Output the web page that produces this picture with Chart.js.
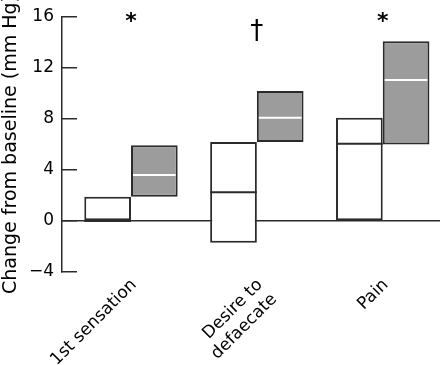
<!DOCTYPE html>
<html><head><meta charset="utf-8">
<script src="https://cdn.jsdelivr.net/npm/chart.js@4.4.0/dist/chart.umd.min.js"></script>
<style>html,body{margin:0;padding:0;background:#fff;overflow:hidden}#wrap{width:440px;height:365px}</style>
</head><body><div id="wrap"><canvas id="c" width="440" height="365"></canvas></div>
<script>
const categories = ['1st sensation', ['Desire to', 'defaecate'], 'Pain'];
const openLow = [0, -1.7, 0];
const openHigh = [1.9, 6.2, 8.1];
const openMedian = [0, 2.25, 6.05];
const shadedLow = [1.9, 6.2, 6.0];
const shadedHigh = [5.95, 10.2, 14.1];
const shadedMedian = [3.6, 8.1, 11.05];
const yTicks = [-4, 0, 4, 8, 12, 16];
const sigMarks = ['*', '\u2020', '*'];
const sigLevel = [15.6, 14.8, 15.6];

const FONT = 'DejaVu Sans';
const DARK = '#2b2b2b';

const medianPlugin = {
  id: 'medians',
  afterDatasetsDraw(chart) {
    const ctx = chart.ctx, y = chart.scales.y;
    chart.data.datasets.forEach((ds, di) => {
      const meta = chart.getDatasetMeta(di);
      meta.data.forEach((bar, i) => {
        const py = y.getPixelForValue(ds.medians[i]);
        const half = bar.width / 2 - ds.medianInset;
        ctx.save();
        ctx.strokeStyle = ds.medianColor;
        ctx.lineWidth = 2;
        ctx.beginPath();
        ctx.moveTo(bar.x - half, py);
        ctx.lineTo(bar.x + half, py);
        ctx.stroke();
        ctx.restore();
      });
    });
  }
};

const sigPlugin = {
  id: 'sig',
  afterDraw(chart) {
    const ctx = chart.ctx, x = chart.scales.x, y = chart.scales.y;
    ctx.save();
    ctx.fillStyle = '#000';
    ctx.textAlign = 'center';
    ctx.textBaseline = 'middle';
    sigMarks.forEach((m, i) => {
      ctx.font = (m === '*' ? 'bold 22px ' : '26px ') + FONT;
      ctx.fillText(m, x.getPixelForValue(i), y.getPixelForValue(sigLevel[i]));
    });
    ctx.restore();
  }
};

const toData = (lo, hi) => lo.map((v, i) => ({x: i, y: [v, hi[i]]}));

new Chart(document.getElementById('c'), {
  type: 'bar',
  data: {
    datasets: [
      {data: toData(openLow, openHigh), medians: openMedian, medianColor: DARK, medianInset: 0,
       backgroundColor: '#ffffff', borderColor: DARK, borderWidth: 2, borderSkipped: false},
      {data: toData(shadedLow, shadedHigh), medians: shadedMedian, medianColor: '#ffffff', medianInset: 2,
       backgroundColor: '#9c9c9c', borderColor: DARK, borderWidth: 2, borderSkipped: false}
    ]
  },
  options: {
    responsive: false,
    devicePixelRatio: 1,
    animation: false,
    categoryPercentage: 0.742,
    barPercentage: 1.0,
    layout: {padding: {top: 17, left: 0, right: 0, bottom: 0}},
    plugins: {legend: {display: false}, tooltip: {enabled: false}},
    scales: {
      x: {
        type: 'linear', min: -0.548, max: 2.455, offset: false,
        grid: {display: false, drawTicks: false, offset: false},
        border: {display: false},
        afterBuildTicks: s => { s.ticks = categories.map((c, i) => ({value: i})); },
        afterFit: s => { s.height = 93; s.paddingLeft = 0; s.paddingRight = 0; s.paddingTop = 0; s.paddingBottom = 0; },
        ticks: {
          autoSkip: false, minRotation: 45, maxRotation: 45,
          padding: 3, labelOffset: 3,
          color: '#000', font: {family: FONT, size: 17},
          callback: v => categories[v]
        }
      },
      y: {
        min: -4, max: 16,
        afterBuildTicks: s => { s.ticks = yTicks.map(v => ({value: v})); },
        afterFit: s => { s.width = 62; s.paddingTop = 0; s.paddingBottom = 0; },
        grid: {
          drawOnChartArea: true,
          color: c => (c.tick && c.tick.value === 0) ? DARK : 'rgba(0,0,0,0)',
          tickColor: DARK, tickLength: -15, lineWidth: 1.5
        },
        border: {display: true, color: DARK, width: 1.5},
        ticks: {
          padding: 23, color: '#000', font: {family: FONT, size: 17},
          callback: v => v < 0 ? '\u2212' + Math.abs(v) : String(v)
        },
        title: {display: true, text: 'Change from baseline (mm Hg)', color: '#000',
                font: {family: FONT, size: 19}, padding: {top: 0, bottom: 0}}
      }
    }
  },
  plugins: [medianPlugin, sigPlugin]
});
</script></body></html>
